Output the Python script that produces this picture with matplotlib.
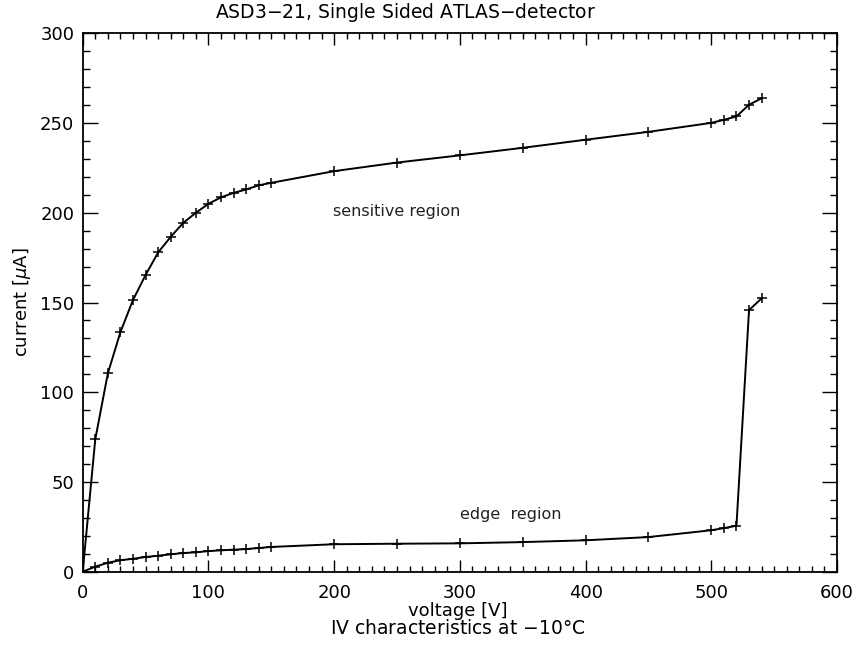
import matplotlib
matplotlib.use("Agg")
import matplotlib.pyplot as plt
from matplotlib.ticker import MultipleLocator

voltage = [0, 10, 20, 30, 40, 50, 60, 70, 80, 90, 100, 110, 120, 130, 140, 150,
           200, 250, 300, 350, 400, 450, 500, 510, 520, 530, 540]
sensitive = [0, 73.8, 110.5, 133.5, 151.4, 165.3, 177.9, 186.6, 194.4, 200.0, 205.0,
             208.6, 211.1, 213.0, 215.3, 216.7, 223.2, 228.0, 232.0, 236.2, 240.7,
             245.1, 250.1, 251.8, 253.7, 260.2, 263.8]
edge = [0, 2.8, 5.0, 6.4, 7.2, 8.2, 8.9, 9.7, 10.4, 10.8, 11.5, 11.9, 12.3, 12.6,
        13.2, 13.8, 15.3, 15.6, 15.8, 16.5, 17.5, 19.3, 23.1, 24.3, 25.6, 145.8, 152.3]

plt.rcParams['font.family'] = ['DejaVu Sans']
plt.rcParams['mathtext.fontset'] = 'dejavusans'

fig = plt.figure(figsize=(8.57, 6.51), dpi=100)
ax = fig.add_axes([0.0965, 0.1218, 0.8802, 0.827])

ax.plot(voltage, sensitive, color='black', lw=1.4, marker='+', ms=6.5, mew=1.1)
ax.plot(voltage, edge, color='black', lw=1.4, marker='+', ms=6.5, mew=1.1)

ax.set_xlim(0, 600)
ax.set_ylim(0, 300)
ax.xaxis.set_major_locator(MultipleLocator(100))
ax.xaxis.set_minor_locator(MultipleLocator(10))
ax.yaxis.set_major_locator(MultipleLocator(50))
ax.yaxis.set_minor_locator(MultipleLocator(10))
ax.tick_params(which='both', direction='in', top=True, right=True, width=1.0,
               labelsize=13)
ax.tick_params(axis='x', which='major', length=8.5, pad=9)
ax.tick_params(axis='x', which='minor', length=4)
ax.tick_params(axis='y', which='major', length=11, pad=6)
ax.tick_params(axis='y', which='minor', length=5)
for s in ax.spines.values():
    s.set_linewidth(1.3)

ax.text(199, 198, "sensitive region", fontsize=11.5, color='#222222')
ax.text(300, 29.5, "edge  region", fontsize=11.5, color='#222222')

fig.text(0.473, 0.973, "ASD3$-$21, Single Sided ATLAS$-$detector", ha='center',
         va='baseline', fontsize=13.5)
fig.text(0.5344, 0.0545, "voltage [V]", ha='center', va='baseline', fontsize=13)
ax.set_ylabel(r"current [$\mu$A]", fontsize=13, labelpad=5)
fig.text(0.534, 0.026, "IV characteristics at $-$10°C", ha='center',
         va='baseline', fontsize=13.5)

fig.savefig("out.png", dpi=100)
